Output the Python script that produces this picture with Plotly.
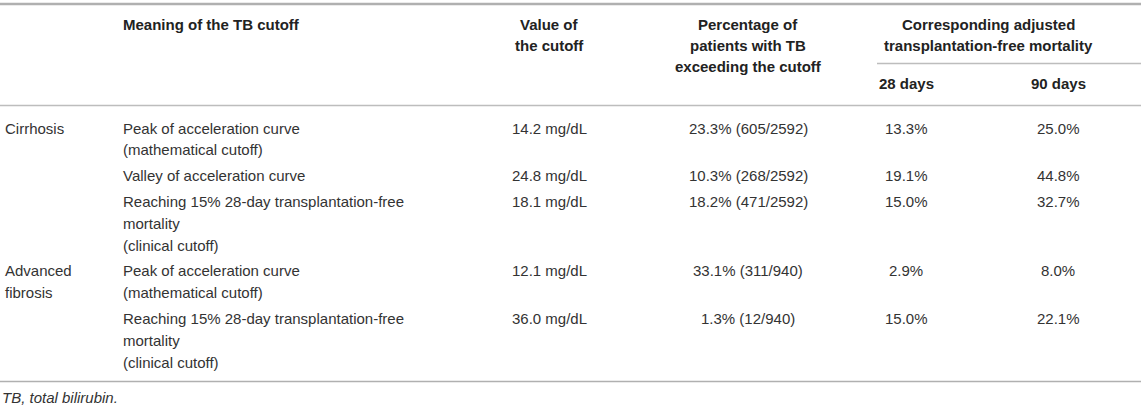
import plotly.graph_objects as go

# ---- data ----
groups = ["Cirrhosis", "", "", "Advanced|fibrosis", ""]
meanings = [
    "Peak of acceleration curve|(mathematical cutoff)",
    "Valley of acceleration curve",
    "Reaching 15% 28-day transplantation-free|mortality|(clinical cutoff)",
    "Peak of acceleration curve|(mathematical cutoff)",
    "Reaching 15% 28-day transplantation-free|mortality|(clinical cutoff)",
]
cutoff_values = ["14.2 mg/dL", "24.8 mg/dL", "18.1 mg/dL", "12.1 mg/dL", "36.0 mg/dL"]
pct_exceeding = ["23.3% (605/2592)", "10.3% (268/2592)", "18.2% (471/2592)",
                 "33.1% (311/940)", "1.3% (12/940)"]
mort_28 = ["13.3%", "19.1%", "15.0%", "2.9%", "15.0%"]
mort_90 = ["25.0%", "44.8%", "32.7%", "8.0%", "22.1%"]

header_cols = ["", "Meaning of the TB cutoff", "Value of|the cutoff",
               "Percentage of|patients with TB|exceeding the cutoff"]
header_group = "Corresponding adjusted|transplantation-free mortality"
header_sub = ["28 days", "90 days"]
footnote = "TB, total bilirubin."

# ---- layout ----
W, H = 1145, 410
FONT = "Liberation Sans, Arial, Helvetica, sans-serif"
BODY = "#333333"
HEAD = "#222222"
FS = 15

col_x = [3, 120.5, 549, 748, 906, 1058]
col_anchor = ["left", "left", "center", "center", "center", "center"]

ann = []

def add(x, y, text, anchor, bold=False, italic=False, color=BODY):
    t = text
    if bold:
        t = "<b>" + t + "</b>"
    if italic:
        t = "<i>" + t + "</i>"
    ann.append(dict(x=x, y=y, xref="x", yref="y", text=t, showarrow=False,
                    xanchor=anchor, yanchor="middle",
                    font=dict(family=FONT, size=FS, color=color)))

# header
HY0, HLH = 24.5, 21
for ci, h in enumerate(header_cols):
    for li, line in enumerate(h.split("|") if h else []):
        add(col_x[ci], HY0 + li * HLH, line, col_anchor[ci], bold=True, color=HEAD)
for li, line in enumerate(header_group.split("|")):
    add(988.5, HY0 + li * HLH, line, "center", bold=True, color=HEAD)
for ci, h in enumerate(header_sub):
    add(col_x[4 + ci], 83.5, h, "center", bold=True, color=HEAD)

# body
Y0, LH, PAD = 128, 21.7, 4.25
k = 0
for r in range(len(meanings)):
    cells = [groups[r], meanings[r], cutoff_values[r], pct_exceeding[r],
             mort_28[r], mort_90[r]]
    nlines = max(len(c.split("|")) for c in cells)
    for ci, c in enumerate(cells):
        if not c:
            continue
        for li, line in enumerate(c.split("|")):
            y = Y0 + (k + li) * LH + PAD * r
            add(col_x[ci], y, line, col_anchor[ci])
    k += nlines

add(0, 397.5, footnote, "left", italic=True)

shapes = [
    dict(type="line", xref="x", yref="y", x0=0, x1=1141, y0=4, y1=4,
         line=dict(color="#b0b0b0", width=2.5)),
    dict(type="line", xref="x", yref="y", x0=877, x1=1141, y0=63.5, y1=63.5,
         line=dict(color="#bdbdbd", width=1.5)),
    dict(type="line", xref="x", yref="y", x0=0, x1=1141, y0=105.5, y1=105.5,
         line=dict(color="#bdbdbd", width=1.5)),
    dict(type="line", xref="x", yref="y", x0=0, x1=1141, y0=381.5, y1=381.5,
         line=dict(color="#b0b0b0", width=1.5)),
]

fig = go.Figure()
fig.update_layout(
    width=W, height=H,
    margin=dict(l=0, r=0, t=0, b=0),
    paper_bgcolor="white", plot_bgcolor="white",
    xaxis=dict(range=[0, W], visible=False, fixedrange=True),
    yaxis=dict(range=[H, 0], visible=False, fixedrange=True),
    annotations=ann, shapes=shapes, showlegend=False,
)
fig.write_html(
    "out.html",
    config={"displayModeBar": False},
    post_script="document.body.style.margin='0px';document.body.style.overflow='hidden';",
)
